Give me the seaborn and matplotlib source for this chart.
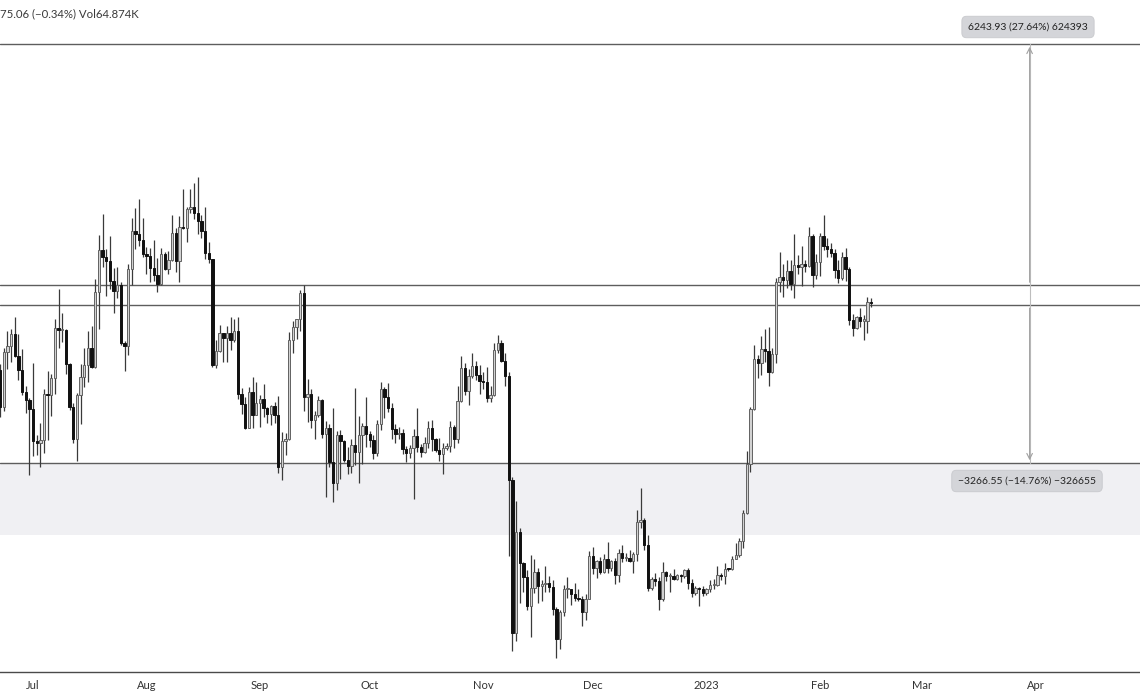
import datetime as dt
import numpy as np
import pandas as pd
import matplotlib
matplotlib.use("Agg")
import matplotlib.pyplot as plt
import matplotlib.dates as mdates
import seaborn as sns

# ---------------- data (daily OHLC) ----------------
start_date = "2022-06-21"
opens = [20570, 20720, 19970, 21100, 21230, 21500, 21030, 20730, 20280, 20100,
         19930, 19290, 19250, 19300, 20240, 20200, 20560, 21630, 21590, 21590,
         20860, 19970, 19330, 20210, 20580, 20830, 21200, 20790, 22430, 23400,
         23230, 23150, 22680, 22450, 22580, 21300, 21240, 22950, 23850, 23780,
         23640, 23300, 23270, 22990, 22820, 22620, 23310, 22950, 23170, 23810,
         23150, 23950, 23940, 24400, 24440, 24300, 24100, 23850, 23340, 23200,
         20830, 21140, 21520, 21400, 21530, 21370, 21560, 20240, 20030, 19550,
         20280, 19810, 20050, 20130, 19950, 19830, 19990, 19800, 18790, 19290,
         19320, 21360, 21650, 21830, 22400, 20170, 20230, 19700, 19800, 20110,
         19420, 19540, 18880, 18480, 19400, 19290, 18930, 18800, 19220, 19080,
         19410, 19590, 19420, 19310, 19060, 19630, 20340, 20160, 19950, 19530,
         19420, 19450, 19130, 19060, 19160, 19380, 19180, 19070, 19260, 19550,
         19330, 19120, 19040, 19160, 19200, 19570, 19330, 20090, 20770, 20290,
         20600, 20820, 20630, 20490, 20480, 20150, 20200, 21150, 21300, 20920,
         20600, 18540, 15880, 17590, 17050, 16810, 16330, 16620, 16900, 16660,
         16690, 16700, 16640, 16280, 15780, 16220, 16600, 16600, 16520, 16460,
         16440, 16220, 16440, 17170, 16970, 17090, 16890, 17110, 16970, 17090,
         16840, 17230, 17130, 17130, 17090, 17210, 17780, 17810, 17360, 16630,
         16780, 16740, 16440, 16900, 16820, 16830, 16780, 16840, 16830, 16920,
         16700, 16540, 16630, 16600, 16540, 16610, 16670, 16670, 16850, 16830,
         16950, 16940, 17120, 17180, 17440, 17940, 18850, 19930, 20960, 20880,
         21180, 21140, 20680, 21070, 22670, 22780, 22710, 22920, 22620, 23060,
         23010, 23080, 23030, 23740, 22830, 23130, 23730, 23490, 23430, 23330,
         22930, 22760, 23250, 22960, 21800, 21630, 21860, 21790, 21790, 22200]
highs = [21700, 20860, 21200, 21560, 21600, 21860, 21500, 21180, 20400, 20140,
         20870, 19400, 19650, 20330, 20700, 20650, 21820, 22500, 21950, 21600,
         20870, 20050, 20250, 20850, 21200, 21560, 21680, 22730, 23760, 24270,
         23430, 23740, 22990, 23000, 22650, 21340, 23080, 24180, 24420, 24650,
         24180, 23480, 23460, 23650, 23220, 23450, 23350, 23380, 24240, 23930,
         24220, 24900, 24450, 24890, 25050, 25210, 24250, 24450, 23600, 23200,
         21370, 21700, 21530, 21680, 21880, 21820, 21880, 20360, 20160, 20380,
         20580, 20480, 20200, 20440, 19960, 20000, 20060, 20180, 19460, 19440,
         21540, 21790, 21820, 22480, 22580, 20550, 20330, 19890, 20180, 20120,
         19680, 19630, 19950, 19490, 19500, 19310, 19180, 19320, 20360, 19790,
         19640, 20170, 19480, 19400, 19710, 20470, 20370, 20450, 20050, 19620,
         19560, 19520, 19200, 19220, 19520, 19950, 19230, 19360, 19680, 19700,
         19350, 19340, 19250, 19250, 19690, 19600, 20400, 21020, 20870, 20750,
         21080, 20920, 20840, 20690, 20800, 20390, 21300, 21480, 21370, 21080,
         20680, 18600, 18150, 17670, 17070, 16920, 17180, 17120, 16960, 16750,
         17000, 16820, 16750, 16300, 16250, 16680, 16810, 16600, 16700, 16600,
         16480, 16530, 17250, 17320, 17100, 17160, 17200, 17420, 17100, 17130,
         17300, 17360, 17230, 17270, 17240, 17990, 18390, 17850, 17530, 16800,
         16870, 16810, 17060, 16910, 16870, 16950, 16860, 16860, 16940, 16970,
         16780, 16660, 16640, 16650, 16630, 16760, 16780, 17000, 16880, 17040,
         16970, 17170, 17400, 17490, 17990, 19100, 19970, 21260, 21040, 21460,
         21610, 21650, 21190, 22750, 23370, 23080, 23170, 23170, 23800, 23290,
         23500, 23160, 23960, 23790, 23300, 23810, 24250, 23700, 23580, 23440,
         23160, 23370, 23450, 23010, 21930, 21900, 22080, 21910, 22320, 22290]
lows = [20350, 19770, 19880, 20740, 20900, 21000, 20520, 20210, 19850, 18630,
        19000, 19010, 18780, 19050, 19300, 19790, 20240, 21200, 21330, 20650,
        19900, 19250, 18910, 19620, 20380, 20480, 20760, 20770, 21600, 23000,
        22350, 22500, 21950, 22300, 21250, 20700, 21040, 22600, 23420, 23500,
        23230, 22850, 22650, 22690, 22430, 22590, 22930, 22850, 23150, 22880,
        22670, 23900, 23600, 24300, 24150, 23800, 23700, 23200, 23100, 20800,
        20780, 21100, 20900, 20900, 21150, 21320, 20120, 19820, 19530, 19550,
        19550, 19800, 19560, 19760, 19650, 19600, 19640, 18680, 18540, 19010,
        19310, 21080, 21380, 21560, 19890, 19660, 19550, 19320, 19760, 19350,
        18230, 18780, 18130, 18360, 18560, 18880, 18650, 18680, 18830, 18480,
        18850, 19180, 19170, 18950, 19000, 19500, 19750, 19860, 19330, 19260,
        19330, 19030, 18880, 18970, 18190, 19080, 18980, 19060, 19160, 19100,
        19070, 18900, 18650, 19120, 19080, 19160, 19250, 20060, 20200, 20000,
        20560, 20510, 20240, 20340, 20060, 20060, 20180, 21080, 20900, 20390,
        17170, 15590, 15750, 16370, 16550, 16260, 15820, 16540, 16380, 16400,
        16550, 16560, 16180, 15480, 15630, 16160, 16460, 16340, 16400, 16400,
        16000, 16100, 16430, 16860, 16790, 16860, 16880, 16870, 16910, 16690,
        16730, 17060, 17090, 17070, 16870, 17080, 17660, 17280, 16580, 16590,
        16660, 16260, 16400, 16740, 16560, 16750, 16760, 16730, 16790, 16600,
        16470, 16500, 16330, 16490, 16500, 16550, 16600, 16660, 16760, 16690,
        16910, 16920, 17110, 17150, 17310, 17920, 18700, 19900, 20560, 20630,
        20890, 20400, 20670, 20870, 22420, 22320, 22520, 22480, 22300, 22850,
        22560, 22880, 23000, 22550, 22720, 22800, 23400, 23250, 23250, 22760,
        22630, 22700, 22680, 21700, 21460, 21600, 21640, 21370, 21530, 22100]
closes = opens[1:] + [22175]

# horizontal levels and measure tool
level_top = 28834.0
level_upper = 22590.0
level_lower = 22131.0
level_support = 18864.6
zone_bottom = 17538.0
measure_up = "6243.93 (27.64%) 624393"
measure_down = "\u22123266.55 (\u221214.76%) \u2212326655"
header = "75.06 (\u22120.34%) Vol64.874K"
tick_dates = ["2022-07-01", "2022-08-01", "2022-09-01", "2022-10-01", "2022-11-01",
              "2022-12-01", "2023-01-01", "2023-02-01", "2023-03-01", "2023-04-01"]
tick_labels = ["Jul", "Aug", "Sep", "Oct", "Nov", "Dec", "2023", "Feb", "Mar", "Apr"]

df = pd.DataFrame({"date": pd.date_range(start_date, periods=len(opens), freq="D"),
                   "open": opens, "high": highs, "low": lows, "close": closes})
df["x"] = mdates.date2num(df["date"])
df["up"] = df["close"] >= df["open"]

# ---------------- style ----------------
sns.set_theme(style="white")
plt.rcParams["font.family"] = ["Lato", "DejaVu Sans"]

fig = plt.figure(figsize=(11.4, 6.94), dpi=100)
ax = fig.add_axes([0, 22 / 694, 1, 672 / 694])
ax.set_yscale("log")

jul1 = mdates.date2num(pd.Timestamp("2022-07-01"))
ax.set_xlim(jul1 - 9.02, jul1 + 302.46)
ax.set_ylim(15267, 30148)

# support zone & levels
ax.axhspan(zone_bottom, level_support, color="#f0f0f3", zorder=0, lw=0)
for lv in [level_top, level_upper, level_lower, level_support]:
    ax.axhline(lv, color="#5d5d5d", lw=1.0, zorder=1)

# wicks
ax.vlines(df["x"], df["low"], df["high"], color="#3a3a3a", lw=0.9, zorder=2)
# bodies
lo = np.minimum(df["open"], df["close"])
hi = np.maximum(df["open"], df["close"])
hgt = np.maximum(hi - lo, lo * 0.0012)
up = df["up"].values
ax.bar(df["x"][up], hgt[up], bottom=lo[up], width=0.64, color="#d2d2d2",
       edgecolor="#626262", linewidth=0.7, zorder=3)
ax.bar(df["x"][~up], hgt[~up], bottom=lo[~up], width=0.64, color="#111111",
       edgecolor="#111111", linewidth=0.7, zorder=3)

# measure arrows
mx = jul1 + 272.3
ax.plot([mx, mx], [level_support, level_top], color="#bdbdbd", lw=0.8, zorder=1)
ax.annotate("", xy=(mx, level_top), xytext=(mx, level_upper),
            arrowprops=dict(arrowstyle="->", color="#a0a0a0", lw=0.8,
                            mutation_scale=10), zorder=2)
ax.annotate("", xy=(mx, level_support), xytext=(mx, level_lower),
            arrowprops=dict(arrowstyle="->", color="#a0a0a0", lw=0.8,
                            mutation_scale=10), zorder=2)
bbox = dict(boxstyle="round,pad=0.6,rounding_size=0.45", fc="#d4d5d9",
            ec="#c8c9cd", lw=0.6)
fig.text(1028 / 1140, 1 - 27 / 694, measure_up, ha="center", va="center",
         fontsize=7.5, color="#222222", bbox=bbox)
fig.text(1027 / 1140, 1 - 481 / 694, measure_down, ha="center", va="center",
         fontsize=7.5, color="#222222", bbox=bbox)

# header text
fig.text(0.0, 1 - 14 / 694, header, ha="left", va="center", fontsize=8.2,
         color="#3a3a3a")

# axes cosmetics
ax.set_xticks([mdates.date2num(pd.Timestamp(d)) for d in tick_dates])
ax.set_xticklabels(tick_labels, fontsize=8, color="#333333")
ax.tick_params(axis="x", length=0, pad=6)
ax.set_yticks([])
ax.yaxis.set_minor_locator(matplotlib.ticker.NullLocator())
ax.set_yticklabels([])
sns.despine(ax=ax, left=True, right=True, top=True)
ax.spines["bottom"].set_color("#4a4a4a")
ax.spines["bottom"].set_linewidth(1.0)
ax.set_xlabel("")
ax.set_ylabel("")

fig.savefig("out.png", dpi=100)
